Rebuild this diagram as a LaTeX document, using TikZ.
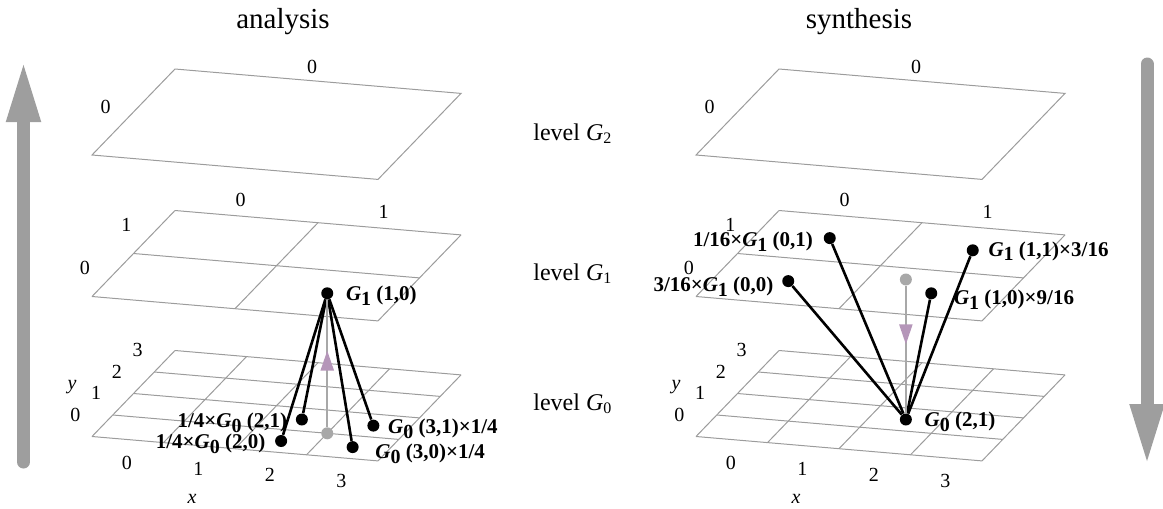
\documentclass[tikz,border=0pt]{standalone}
\usepackage{fontspec}
\setmainfont{Liberation Serif}
\usepackage{tikz}
\usetikzlibrary{arrows.meta}
\usetikzlibrary{positioning}
\usetikzlibrary{decorations.markings}
\definecolor{lp-grid}{HTML}{9C9C9C}
\definecolor{lp-arrow}{HTML}{9E9E9E}
\definecolor{lp-gray}{HTML}{A8A8A8}
\definecolor{lp-tip}{HTML}{B596B9}

% bold G with its level index
\newcommand{\Gbf}[1]{\textit{G}\raisebox{-0.5ex}{\fontsize{10}{10}\selectfont #1}}

% the three levels of one pyramid, #1 = name prefix
\newcommand{\levelplanes}[1]{%
  \foreach \i in {0,...,4} {
    \draw[plane] (\i,0) -- (\i,4);
    \draw[plane] (0,\i) -- (4,\i);
  }
  \foreach \i in {0,...,3} {
    \node[axnum, xshift=-0.5pt, yshift=-11.5pt] (#1-x\i) at (\i+0.5,0) {\i};
    \node[axnum, xshift=-13.5pt, yshift=5.5pt] (#1-y\i) at (0,\i+0.5) {\i};
  }
  \node[axnum, font=\fontsize{10}{12}\selectfont\itshape, xshift=-3.6pt, yshift=-26.7pt] (#1-xn) at (1.5,0) {x};
  \node[axnum, font=\fontsize{10}{12}\selectfont\itshape, xshift=-30.75pt, yshift=3.25pt] (#1-yn) at (0,2) {y};
  \begin{scope}[yshift=70pt]
    \foreach \i in {0,2,4} {
      \draw[plane] (\i,0) -- (\i,4);
      \draw[plane] (0,\i) -- (4,\i);
    }
    \foreach \i in {0,1} {
      \node[axnum, xshift=-3pt, yshift=8.5pt] (#1-gx\i) at (2*\i+1,4) {\i};
      \node[axnum, xshift=-14pt, yshift=3.5pt] (#1-gy\i) at (0,2*\i+1) {\i};
    }
  \end{scope}
  \begin{scope}[yshift=140.75pt]
    \draw[plane] (0,0) -- (4,0) -- (4,4) -- (0,4) -- cycle;
    \node[axnum, xshift=-3pt, yshift=7pt] (#1-tx) at (2,4) {0};
    \node[axnum, xshift=-14pt, yshift=2.5pt] (#1-ty) at (0,2) {0};
  \end{scope}
}

\tikzset{
  plane/.style={draw=lp-grid, line width=0.5pt},
  axnum/.style={inner sep=0pt, font=\fontsize{10}{12}\selectfont},
  dot/.style={circle, fill=black, inner sep=0pt, minimum size=6pt},
  gdot/.style={dot, fill=lp-gray},
  link/.style={line width=1.3pt, black},
  wlab/.style={inner sep=0pt, font=\fontsize{10.5}{12}\selectfont\bfseries},
  lvl/.style={anchor=base west, inner sep=0pt, font=\fontsize{12}{14}\selectfont},
  title/.style={anchor=base, inner sep=0pt, font=\fontsize{14.5}{17}\selectfont},
  bigarrow/.style={draw=lp-arrow, line width=6.5pt, line cap=round, -{Triangle[length=31pt,width=15.5pt]}},
  proj/.style={draw=lp-gray, line width=1.1pt,
    decoration={markings, mark=at position #1 with {\arrow{Triangle[length=10pt,width=6.5pt,color=lp-tip]}}},
    postaction={decorate}}
}

\begin{document}
\begin{tikzpicture}[x=0.5pt, y=-0.5pt]
  % pixel grid of the page, y pointing down
  \useasboundingbox (0,0) rectangle (1163,509);

  \node[title] (t-ana) at (283,28) {analysis};
  \node[title] (t-syn) at (859,28) {synthesis};

  \node[lvl] (lv2) at (533,140) {level \textit{G}\textsubscript{2}};
  \node[lvl] (lv1) at (533,280) {level \textit{G}\textsubscript{1}};
  \node[lvl] (lv0) at (533,410) {level \textit{G}\textsubscript{0}};

  \coordinate (up-s) at (23.5,462);
  \coordinate (up-e) at (23.5,60);
  \draw[bigarrow] (up-s) -- (up-e);
  \coordinate (dn-s) at (1147,64);
  \coordinate (dn-e) at (1147,466);
  \draw[bigarrow] (dn-s) -- (dn-e);

  % analysis
  \begin{scope}[shift={(92,436.5)}, x={(35.75pt,-3.05pt)}, y={(10.375pt,10.75pt)}]
    \levelplanes{a}
    \node[gdot] (a-proj) at (3,1) {};
    \node[dot, yshift=70pt] (a-g1) at (3,1) {};
    \node[dot] (a-20) at (2.5,0.5) {};
    \node[dot] (a-21) at (2.5,1.5) {};
    \node[dot] (a-30) at (3.5,0.5) {};
    \node[dot] (a-31) at (3.5,1.5) {};
    \foreach \n in {20,21,30,31}
      \draw[link] (a-g1) -- (a-\n);
    \draw[proj=0.6] (a-proj) -- (a-g1);
    \node[wlab, right=6pt of a-g1, yshift=-1pt] (a-g1l) {\Gbf{1} (1,0)};
    \node[wlab, left=4pt of a-21, yshift=-1.5pt] (a-21l) {1/4×\Gbf{0} (2,1)};
    \node[wlab, left=4.5pt of a-20, yshift=-1.5pt] (a-20l) {1/4×\Gbf{0} (2,0)};
    \node[wlab, right=4pt of a-31, yshift=-1.5pt] (a-31l) {\Gbf{0} (3,1)×1/4};
    \node[wlab, right=8pt of a-30, yshift=-3.5pt] (a-30l) {\Gbf{0} (3,0)×1/4};
  \end{scope}

  % synthesis
  \begin{scope}[shift={(696,436.5)}, x={(35.75pt,-3.05pt)}, y={(10.375pt,10.75pt)}]
    \levelplanes{s}
    \node[dot] (s-g0) at (2.5,1.5) {};
    \node[gdot, yshift=70pt] (s-proj) at (2.5,1.5) {};
    \node[dot, yshift=70pt] (s-00) at (1,1) {};
    \node[dot, yshift=70pt] (s-01) at (1,3) {};
    \node[dot, yshift=70pt] (s-10) at (3,1) {};
    \node[dot, yshift=70pt] (s-11) at (3,3) {};
    \foreach \n in {00,01,10,11}
      \draw[link] (s-\n) -- (s-g0);
    \draw[proj=0.46] (s-proj) -- (s-g0);
    \node[wlab, left=5pt of s-01, yshift=-2pt] (s-01l) {1/16×\Gbf{1} (0,1)};
    \node[wlab, left=4pt of s-00, yshift=-3pt] (s-00l) {3/16×\Gbf{1} (0,0)};
    \node[wlab, right=4.5pt of s-11, yshift=-0.5pt] (s-11l) {\Gbf{1} (1,1)×3/16};
    \node[wlab, right=8pt of s-10, yshift=-3pt] (s-10l) {\Gbf{1} (1,0)×9/16};
    \node[wlab, right=6pt of s-g0, yshift=-1pt] (s-g0l) {\Gbf{0} (2,1)};
  \end{scope}
\end{tikzpicture}
\end{document}
